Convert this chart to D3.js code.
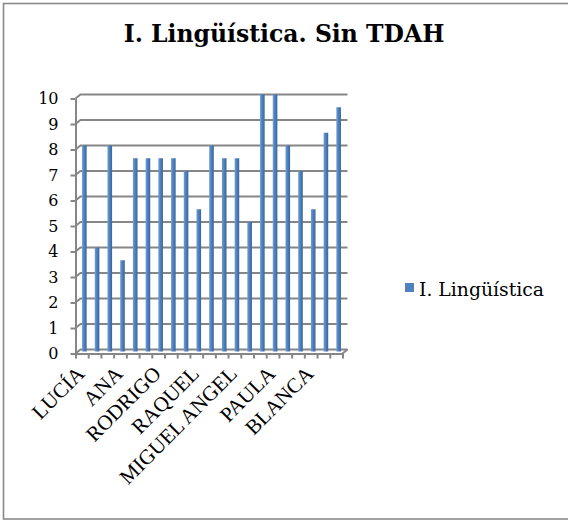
<!DOCTYPE html>
<html>
<head>
<meta charset="utf-8">
<script src="https://cdn.jsdelivr.net/npm/d3@7"></script>
<style>
  html, body { margin: 0; padding: 0; background: #ffffff; }
  svg { display: block; }
</style>
</head>
<body>
<script>
// ---- data ----
const title = "I. Lingüística. Sin TDAH";
const seriesName = "I. Lingüística";
const categories = ["LUCÍA", "", "", "ANA", "", "", "RODRIGO", "", "", "RAQUEL", "", "",
  "MIGUEL ANGEL", "", "", "PAULA", "", "", "BLANCA", "", ""];
const values = [8, 4, 8, 3.5, 7.5, 7.5, 7.5, 7.5, 7, 5.5, 8, 7.5, 7.5, 5, 10, 10, 8, 7, 5.5, 8.5, 9.5];
const yTicks = [0, 1, 2, 3, 4, 5, 6, 7, 8, 9, 10];

// ---- layout ----
const W = 568, H = 520;
const depthX = 5, depthY = 4;           // 3D offset between front and back planes
const frontX0 = 75.5, frontX1 = 342.5;
const backY0 = 349.5, backY1 = 94.5;
const gridColor = "#868686";
const barColor = "#4f81bd";

const svg = d3.select("body").append("svg").attr("width", W).attr("height", H);

// chart border
svg.append("rect")
  .attr("x", 3.5).attr("y", 3.5).attr("width", W + 10).attr("height", 515.5)
  .attr("fill", "none").attr("stroke", "#8a8a8a").attr("stroke-width", 1.6);

// gradient for bars
const defs = svg.append("defs");
const grad = defs.append("linearGradient").attr("id", "barGrad")
  .attr("x1", "0").attr("x2", "1").attr("y1", "0").attr("y2", "0");
grad.append("stop").attr("offset", "0%").attr("stop-color", "#6e9fd9");
grad.append("stop").attr("offset", "45%").attr("stop-color", "#4f81bd");
grad.append("stop").attr("offset", "100%").attr("stop-color", "#3a659e");

// scales
const yBack = d3.scaleLinear().domain([0, 10]).range([backY0, backY1]);
const yFront = d3.scaleLinear().domain([0, 10]).range([backY0 + depthY, backY1 + depthY]);
const idx = d3.range(categories.length);
const xMid = d3.scaleBand().domain(idx).range([frontX0 + depthX / 2, frontX1 + depthX / 2]);
const xFrontLin = d3.scaleLinear().domain([0, categories.length]).range([frontX0, frontX1]);

// gridlines on back wall with diagonal to front axis
svg.append("g").selectAll("path").data(yTicks).join("path")
  .attr("d", v => `M${frontX0},${yFront(v)}L${frontX0 + depthX},${yBack(v)}L${frontX1 + depthX},${yBack(v)}`)
  .attr("fill", "none").attr("stroke", gridColor).attr("stroke-width", 2);

// right diagonal of floor
svg.append("path")
  .attr("d", `M${frontX1},${yFront(0)}L${frontX1 + depthX},${yBack(0)}`)
  .attr("fill", "none").attr("stroke", gridColor).attr("stroke-width", 2);

// bars
const barW = 4.6;
svg.append("g").selectAll("rect").data(values).join("rect")
  .attr("x", (d, i) => xMid(i) + xMid.bandwidth() / 2 - barW / 2)
  .attr("y", d => yBack(d))
  .attr("width", barW)
  .attr("height", d => yBack(0) + 2 - yBack(d))
  .attr("fill", "url(#barGrad)");

// y axis (front)
const yAxis = svg.append("g").attr("transform", `translate(${frontX0},0)`)
  .call(d3.axisLeft(yFront).tickValues(yTicks).tickSize(5).tickSizeOuter(0).tickPadding(12).tickFormat(d3.format("d")));
yAxis.selectAll("path, line").attr("stroke", gridColor).attr("stroke-width", 2);
yAxis.selectAll("text").attr("fill", "#000").style("font-family", "'DejaVu Serif', serif").style("font-size", "16px");

// x axis (front) tick marks at category boundaries
const xAxis = svg.append("g").attr("transform", `translate(0,${yFront(0)})`)
  .call(d3.axisBottom(xFrontLin).tickValues(d3.range(categories.length + 1)).tickSize(5).tickSizeOuter(0).tickFormat(""));
xAxis.selectAll("path, line").attr("stroke", gridColor).attr("stroke-width", 2);

// category labels (rotated)
svg.append("g").selectAll("text").data(categories).join("text")
  .attr("transform", (d, i) => `translate(${xMid(i) + xMid.bandwidth() / 2 + 1.5},375) rotate(-45)`)
  .attr("text-anchor", "end")
  .style("font-family", "'Liberation Serif', serif")
  .style("font-size", "21px")
  .attr("fill", "#000")
  .text(d => d);

// title
svg.append("text")
  .attr("x", 284).attr("y", 42)
  .attr("text-anchor", "middle")
  .style("font-family", "'DejaVu Serif', serif")
  .style("font-weight", "bold")
  .style("font-size", "23.5px")
  .attr("fill", "#000")
  .text(title);

// legend
const legend = svg.append("g").attr("transform", "translate(405,283)");
legend.append("rect").attr("x", 0).attr("y", 0).attr("width", 9).attr("height", 9).attr("fill", barColor);
legend.append("text").attr("x", 14).attr("y", 13)
  .style("font-family", "'DejaVu Serif', serif")
  .style("font-size", "18.8px")
  .attr("fill", "#000")
  .text(seriesName);
</script>
</body>
</html>
